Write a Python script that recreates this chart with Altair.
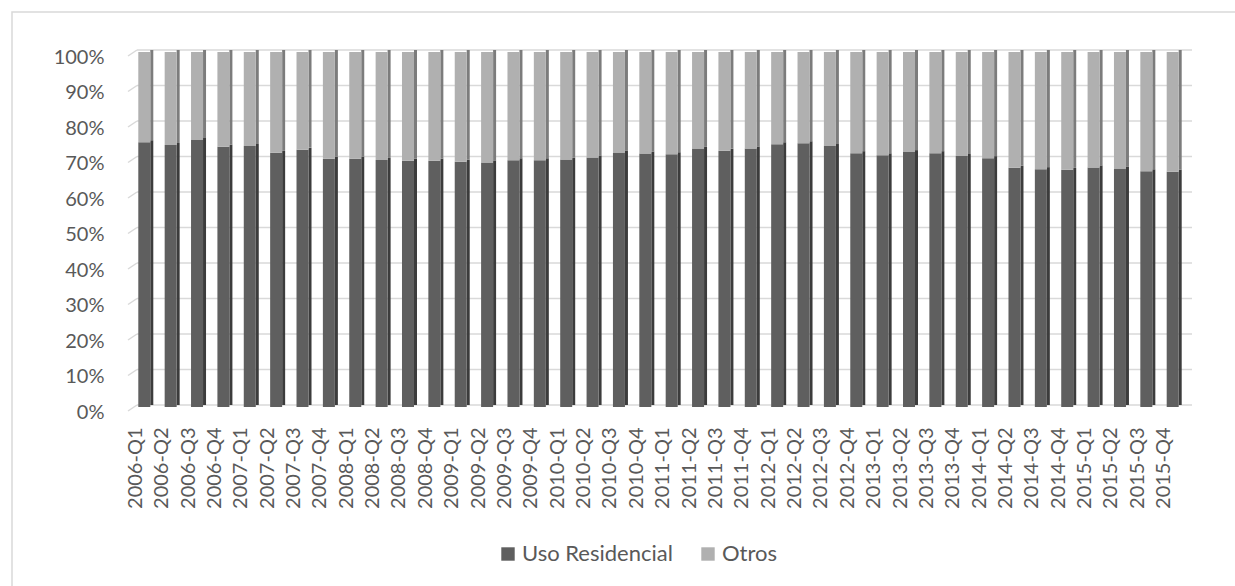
import altair as alt
import pandas as pd

# Quarterly share of floor area: residential use vs. other uses
quarters = [f"{y}-Q{q}" for y in range(2006, 2016) for q in range(1, 5)]

uso_residencial = [
    0.746, 0.738, 0.752, 0.733, 0.735, 0.716, 0.725, 0.699,
    0.699, 0.696, 0.694, 0.694, 0.691, 0.689, 0.695, 0.695,
    0.697, 0.703, 0.717, 0.714, 0.712, 0.728, 0.722, 0.728,
    0.740, 0.743, 0.735, 0.715, 0.709, 0.718, 0.715, 0.707,
    0.701, 0.674, 0.670, 0.668, 0.675, 0.672, 0.664, 0.663,
]
otros = [
    0.254, 0.262, 0.248, 0.267, 0.265, 0.284, 0.275, 0.301,
    0.301, 0.304, 0.306, 0.306, 0.309, 0.311, 0.305, 0.305,
    0.303, 0.297, 0.283, 0.286, 0.288, 0.272, 0.278, 0.272,
    0.260, 0.257, 0.265, 0.285, 0.291, 0.282, 0.285, 0.293,
    0.299, 0.326, 0.330, 0.332, 0.325, 0.328, 0.336, 0.337,
]

series = ["Uso Residencial", "Otros"]
front_colors = ["#5f5f5f", "#b0b0b0"]
side_colors = ["#3c3c3c", "#7c7c7c"]
y_ticks = [i / 10 for i in range(11)]

FONT = "Lato"
TEXT = "#595959"
GRID = "#d9d9d9"
W, H = 1064, 355

rows = []
for i, q in enumerate(quarters):
    rows.append({"trimestre": q, "serie": series[0], "valor": uso_residencial[i], "orden": 0})
    rows.append({"trimestre": q, "serie": series[1], "valor": otros[i], "orden": 1})
df = pd.DataFrame(rows)
grid_df = pd.DataFrame({"tick": y_ticks})
one = pd.DataFrame({"k": [0]})

y_scale = alt.Scale(domain=[0, 1], nice=False)
y_axis = alt.Axis(
    format="%", values=y_ticks, labelFont=FONT, labelFontSize=20,
    labelColor=TEXT, labelPadding=24, labelOffset=7, domain=False,
    ticks=False, tickSize=0, grid=False, title=None,
)

x_enc = alt.X(
    "trimestre:N",
    sort=quarters,
    title=None,
    scale=alt.Scale(paddingInner=0, paddingOuter=0.175),
    axis=alt.Axis(
        labelAngle=270, labelFont=FONT, labelFontSize=20, labelColor=TEXT,
        labelPadding=22, labelOffset=-10, domain=False, ticks=False, tickSize=0,
        grid=False, labelAlign="right", labelBaseline="middle",
    ),
)
y_enc = alt.Y("valor:Q", stack="zero", title=None, scale=y_scale, axis=y_axis)

# back-wall gridlines with the short slanted floor edge at the left
grid_flat = alt.Chart(grid_df).mark_rule(color=GRID, strokeWidth=1.5).encode(
    x=alt.value(9), x2=alt.value(W),
    y=alt.Y("tick:Q", title=None, scale=y_scale, axis=y_axis),
)
grid_slant = alt.Chart(grid_df).mark_rule(color=GRID, strokeWidth=1.5, yOffset=6).encode(
    x=alt.value(0), x2=alt.value(9),
    y=alt.Y("tick:Q", title=None, scale=y_scale, axis=y_axis),
    y2="tick:Q",
)

# side faces of the columns (darker, set back)
sides = alt.Chart(df).mark_bar(width=3, xOffset=6).encode(
    x=x_enc,
    y=y_enc,
    order=alt.Order("orden:Q"),
    color=alt.condition(
        alt.datum.serie == series[0], alt.value(side_colors[0]), alt.value(side_colors[1])
    ),
)

# front faces of the columns
fronts = alt.Chart(df).mark_bar(width=12, xOffset=-1.5, yOffset=2, y2Offset=2).encode(
    x=x_enc,
    y=y_enc,
    order=alt.Order("orden:Q"),
    color=alt.Color(
        "serie:N",
        scale=alt.Scale(domain=series, range=front_colors),
        legend=alt.Legend(
            title=None, orient="none", direction="horizontal",
            legendX=369, legendY=493, symbolType="square", symbolSize=180,
            symbolStrokeWidth=0, labelFont=FONT, labelFontSize=22,
            labelColor=TEXT, labelOffset=3, columnPadding=24, padding=0,
        ),
    ),
)

# outer chart frame; its right and bottom edges run past the canvas
frame = alt.Chart(one).mark_rect(fill=None, stroke=GRID, strokeWidth=1.5).encode(
    x=alt.value(-116), x2=alt.value(1140), y=alt.value(-38), y2=alt.value(560)
)

chart = (
    alt.layer(frame, grid_slant, grid_flat, sides, fronts)
    .resolve_scale(y="shared")
    .properties(
        width=W, height=H,
        autosize=alt.AutoSizeParams(type="none"),
        padding={"left": 128, "top": 50, "right": 43, "bottom": 181},
        background="white",
    )
    .configure_view(stroke=None)
)

chart.save("out.html", embed_options={"renderer": "svg", "actions": False})
